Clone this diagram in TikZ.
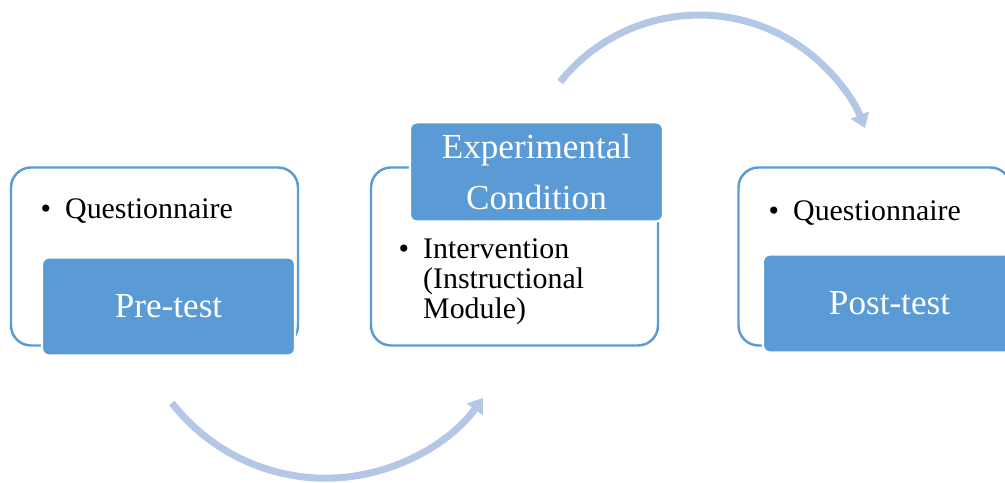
\documentclass[tikz,border=0pt]{standalone}
\usepackage{fontspec}
\setmainfont{Liberation Serif}
\usetikzlibrary{positioning, arrows.meta}
\definecolor{blockblue}{HTML}{5B9BD5}
\definecolor{arcblue}{HTML}{B4C7E7}
\tikzset{
frame/.style={draw=blockblue, line width=0.7pt, rounded corners=0.2cm, minimum width=2.87cm, minimum height=1.78cm}, % outline box of each stage
head/.style={fill=blockblue, draw=white, line width=0.6pt, rounded corners=0.07cm, minimum width=2.53cm, minimum height=0.98cm, text=white, align=center, font=\fontsize{10}{14.5}\selectfont}, % filled title block
item/.style={anchor=base west, inner sep=0pt, font=\fontsize{8.5}{8.5}\selectfont}, % bullet list inside a box
flow/.style={arcblue, line width=2pt, -{Triangle[width=0.19cm, length=0.14cm]}}, % curved arrow between stages
node distance=3.6cm, % distance between the box centres
}

\begin{document}
\begin{tikzpicture}
\useasboundingbox (0,0) rectangle (10.05,4.83);
\node[frame] (f1) at (1.545,2.265) {};
\node[frame, right of=f1] (f2) {};
\node[frame, right of=f2, minimum width=2.72cm] (f3) {};
\node[head, below of=f1, node distance=0.5cm, xshift=0.14cm] (pre) {Pre-test};
\node[head, above of=f2, node distance=0.845cm, xshift=0.22cm] (exp) {Experimental\\Condition};
\node[head, below of=f3, node distance=0.47cm, xshift=0.15cm] (post) {Post-test};
\node[item] (q1) at (0.40,2.64) {\begin{tabular}[t]{@{}l@{\hspace{4pt}}l@{}}\textbullet & Questionnaire\end{tabular}};
\node[item] (iv) at (3.98,2.24) {\begin{tabular}[t]{@{}l@{\hspace{4pt}}l@{}}\textbullet & Intervention\\ & (Instructional\\ & Module)\end{tabular}};
\node[item] (q2) at (7.68,2.62) {\begin{tabular}[t]{@{}l@{\hspace{4pt}}l@{}}\textbullet & Questionnaire\end{tabular}};
\coordinate (arcA) at (1.719,0.801);
\coordinate (arcB) at (5.601,4.010);
\draw[flow] (arcA) arc[start angle=217.8, end angle=324, radius=1.945cm];
\draw[flow] (arcB) arc[start angle=141.4, end angle=21.4, radius=1.78cm];
\end{tikzpicture}
\end{document}
